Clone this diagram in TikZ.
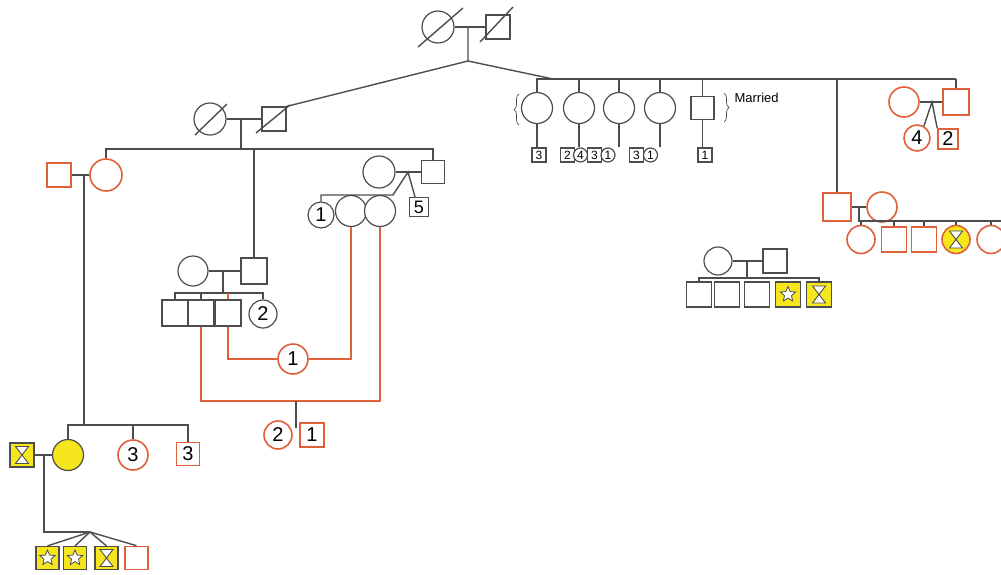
\documentclass[tikz,border=0pt]{standalone}
\usepackage{fontspec}
\setmainfont{Liberation Sans}
\usetikzlibrary{positioning,calc,shapes.geometric,decorations.pathreplacing}
\definecolor{LineGray}{HTML}{4D4D4D}
\definecolor{Carrier}{HTML}{E0603C}
\definecolor{Affected}{HTML}{F5E61E}

\tikzset{
  male/.style={draw=LineGray,fill=white,line width=1.2pt,inner sep=0pt,minimum size=#1},
  male/.default=24pt,
  female/.style={circle,draw=LineGray,fill=white,line width=1.2pt,inner sep=0pt,minimum size=#1},
  female/.default=31pt,
  carrier/.style={draw=Carrier,line width=1.6pt},
  affected/.style={fill=Affected},
  num/.style={font=\fontsize{20}{22}\selectfont},
  smallnum/.style={font=\fontsize{12}{13}\selectfont},
  link/.style={draw=LineGray,line width=1.4pt},
  redlink/.style={draw=Carrier,line width=1.6pt},
  curly/.style={decorate,decoration={brace,amplitude=5pt},draw=LineGray,line width=0.7pt},
  starmark/.style={star,star points=5,star point ratio=2.2,draw=LineGray,fill=white,line width=0.8pt,inner sep=0pt,minimum size=16pt},
  hglass/.pic={\draw[LineGray,fill=white,line width=0.9pt] (-6.5,-8.5) -- (6.5,-8.5) -- (-6.5,8.5) -- (6.5,8.5) -- cycle;}
}

\begin{document}
\begin{tikzpicture}[x=1pt,y=-1pt]
  \useasboundingbox (0,0) rectangle (1001,574);

  % founders and their first child couple
  \node[female=32pt] (gm) at (438,27) {};
  \node[male] (gf) at (498,27) {};
  \node[female=32pt] (pm) at (210,119) {};
  \node[male] (pf) at (274,119) {};
  \foreach \n/\dx/\dy/\ex/\ey in {gm/-20/20/45/-39, gf/-18/15/33/-35, pm/-15/16/32/-31, pf/-18/14/34/-28}
    \draw[link] ([shift={(\dx,\dy)}]\n.center) -- ++(\ex,\ey);
  \draw[link] (gm) -- (gf);
  \draw[link] (pm) -- (pf);
  \coordinate (gj) at (468,27);
  \coordinate (gk) at (468,61);
  \coordinate (barL) at (536,79);
  \coordinate (barM) at (553,79);
  \coordinate (barR) at (956,79);
  \draw[link] (gj) -- (gk) -- (pf.north east);
  \draw[link] (gk) -- (barM);
  \draw[link] (barL) -- (barR);

  % married siblings
  \foreach \i/\x in {1/537,2/579,3/619,4/660}
    \node[female=31pt] (s\i) at (\x,108) {};
  \node[male=23pt] (s5) at (702.5,108) {};
  \foreach \n/\x/\t in {k1/539/3, k2/567.5/2, k3/594.5/3, k4/636.5/3, k5/705/1}
    \node[male=14pt,smallnum] (\n) at (\x,155) {\t};
  \foreach \n/\x/\t in {q2/580.5/4, q3/608/1, q4/650.5/1}
    \node[female=14pt,smallnum] (\n) at (\x,155) {\t};
  \foreach \i in {1,...,5}{
    \draw[link] (s\i.north |- barL) -- (s\i.north);
    \draw[link] (s\i.south) -- (s\i.south |- k1.north);
  }
  \coordinate (bl1) at (519,125);
  \coordinate (bl2) at (519,94);
  \coordinate (br1) at (724,93);
  \coordinate (br2) at (724,122);
  \draw[curly] (bl1) -- (bl2);
  \draw[curly] (br1) -- (br2);
  \node[anchor=west,font=\fontsize{13}{14}\selectfont] (mar) at (731,98) {Married};

  % right branch
  \node[male=28pt,carrier] (fq) at (837,207) {};
  \node[female=30pt,carrier] (fc) at (882,207) {};
  \draw[link] (fq.north |- barL) -- (fq.north);
  \draw[link] (fq) -- (fc);
  \coordinate (fj) at (859,207);
  \coordinate (fk) at (859,221);
  \coordinate (fe) at (1001,221);
  \draw[link] (fj) -- (fk) -- (fe);
  \node[female=28pt,carrier] (f1) at (861,239.5) {};
  \node[male=25pt,carrier] (f2) at (894,239.5) {};
  \node[male=25pt,carrier] (f3) at (924,239.5) {};
  \node[female=28pt,carrier,affected] (f4) at (956,239.5) {};
  \pic at (f4) {hglass};
  \node[female=28pt,carrier] (f5) at (991,239.5) {};
  \foreach \i in {1,...,5}
    \draw[link] (f\i.north |- fk) -- (f\i.north);

  \node[female=30pt,carrier] (rc) at (904,102) {};
  \node[male=26pt,carrier] (rq) at (956,102) {};
  \draw[link] (barR) -- (rq.north);
  \draw[link] (rc) -- (rq);
  \coordinate (rj) at (932,102);
  \node[female=26pt,carrier,num] (r4) at (917,138) {4};
  \node[male=20pt,carrier,num] (r2) at (948,139) {2};
  \draw[link] (r4.60) -- (rj) -- (r2.north west);

  \node[female=28pt] (hc) at (718,261) {};
  \node[male=24pt] (hq) at (775,261) {};
  \draw[link] (hc) -- (hq);
  \coordinate (hj) at (747,261);
  \coordinate (hk) at (747,278);
  \draw[link] (hj) -- (hk);
  \foreach \n/\x in {h1/699,h2/727,h3/757}
    \node[male=25pt] (\n) at (\x,294.5) {};
  \node[male=25pt,affected] (h4) at (788,294.5) {};
  \node[starmark] (h4s) at (h4) {};
  \node[male=25pt,affected] (h5) at (819,294.5) {};
  \pic at (h5) {hglass};
  \draw[link] (h1.north) -- (h1.north |- hk) -- (h5.north |- hk) -- (h5.north);

  % left branch
  \node[male,carrier] (am) at (59,175) {};
  \node[female=32pt,carrier] (ac) at (106,175) {};
  \draw[link] (am) -- (ac);
  \node[female=30pt] (cc) at (193,271) {};
  \node[male=26pt] (cq) at (254,271) {};
  \node[female=32pt] (tm) at (379,172) {};
  \node[male=23pt] (tq) at (433,172) {};
  \coordinate (pj) at (241,119);
  \coordinate (pk) at (241,149);
  \draw[link] (pj) -- (pk);
  \draw[link] (ac.north) -- (ac.north |- pk) -- (tq.north |- pk) -- (tq.north);
  \draw[link] (cq.north) -- (cq.north |- pk);

  \node[male,affected] (ym) at (22,455) {};
  \pic at (ym) {hglass};
  \node[female=31pt,affected] (yc) at (68,455) {};
  \node[female=30pt,carrier,num] (l3c) at (133,455) {3};
  \node[male=23pt,carrier,num] (l3q) at (188,454) {3};
  \coordinate (aj) at (84,175);
  \coordinate (ab) at (84,425);
  \draw[link] (aj) -- (ab);
  \draw[link] (yc.north) -- (yc.north |- ab) -- (l3q.north |- ab) -- (l3q.north);
  \draw[link] (l3c.north) -- (l3c.north |- ab);
  \draw[link] (ym) -- (yc);
  \coordinate (yj) at (44,455);
  \coordinate (yk) at (44,532);
  \coordinate (yl) at (90,532);
  \draw[link] (yj) -- (yk) -- (yl);
  \node[male=23pt,affected] (g1) at (47.5,558) {};
  \node[starmark] (g1s) at (g1) {};
  \node[male=23pt,affected] (g2) at (75,558) {};
  \node[starmark] (g2s) at (g2) {};
  \node[male=23pt,affected] (g3) at (106.5,558) {};
  \pic at (g3) {hglass};
  \node[male=23pt,carrier] (g4) at (136.5,558) {};
  \foreach \n in {g1,g2,g3,g4}
    \draw[link] (yl) -- (\n.north);

  % middle families
  \draw[link] (cc) -- (cq);
  \coordinate (cj) at (223,271);
  \coordinate (ck) at (223,293);
  \draw[link] (cj) -- (ck);
  \node[male=26pt] (b1) at (175,313) {};
  \node[male=26pt] (b2) at (201,313) {};
  \node[male=26pt] (b3) at (228,313) {};
  \node[female=28pt,num] (d2) at (263,314) {2};
  \draw[link] (b1.north) -- (b1.north |- ck) -- (d2.north |- ck) -- (d2.north);
  \draw[link] (b2.north) -- (b2.north |- ck);
  \draw[redlink] (b3.north) -- (b3.north |- ck);

  \draw[link] (tm) -- (tq);
  \coordinate (tj) at (408,172);
  \coordinate (tb) at (393,195);
  \node[female=26pt,num] (t1) at (321,215) {1};
  \node[female=31pt] (t2) at (351,211) {};
  \node[female=31pt] (t3) at (380,211) {};
  \node[male=19pt,font=\fontsize{18}{20}\selectfont] (t5) at (419,207) {5};
  \draw[link] (t1.north) -- (t1.north |- tb) -- (tb) -- (tj) -- ([xshift=-4pt]t5.north);

  \node[female=30pt,carrier,num] (o1) at (293,359) {1};
  \draw[redlink] (b3.south) |- (o1.west);
  \draw[redlink] (o1.east) -| (t2.south);
  \coordinate (rB) at (296,401);
  \coordinate (rC) at (296,428);
  \draw[redlink] (b2.south) |- (rB) -| (t3.south);
  \draw[link] (rB) -- (rC);
  \node[female=28pt,carrier,num] (o2) at (278,435) {2};
  \node[male=24pt,carrier,num] (o3) at (312,435) {1};
\end{tikzpicture}
\end{document}
